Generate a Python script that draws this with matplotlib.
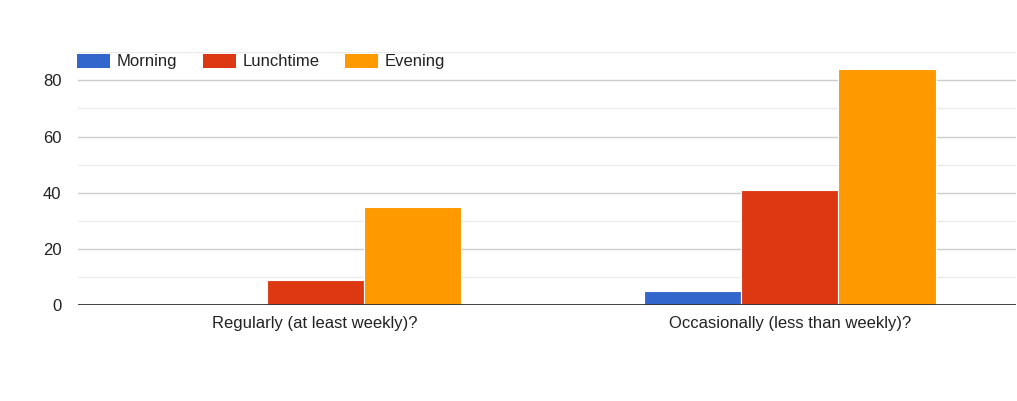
import numpy as np
import matplotlib.pyplot as plt
from matplotlib.patches import Patch

plt.rcParams['font.family'] = ['Liberation Sans', 'DejaVu Sans']

categories = ['Regularly (at least weekly)?', 'Occasionally (less than weekly)?']
series = ['Morning', 'Lunchtime', 'Evening']
morning = [0, 5]
lunchtime = [9, 41]
evening = [35, 84]
colors = ['#3366cc', '#dc3912', '#ff9900']

fig = plt.figure(figsize=(10.17, 4.01), dpi=100)
ax = fig.add_axes([78 / 1017, 96 / 401, 938 / 1017, 252.7 / 401])

x = np.arange(len(categories))
w = 0.205
for i, (vals, c) in enumerate(zip([morning, lunchtime, evening], colors)):
    ax.bar(x + (i - 1) * w, vals, width=w, color=c, edgecolor='white',
           linewidth=0.8, zorder=3)

ax.set_xlim(-0.5, 1.477)
ax.set_ylim(0, 90)

# light lines every 10, darker every 20
for v in range(10, 91, 10):
    col = '#cccccc' if v % 20 == 0 and v < 90 else '#ebebeb'
    ax.axhline(v, color=col, linewidth=1, zorder=1)
ax.axhline(0, color='#333333', linewidth=1.3, zorder=4)

ax.set_yticks([0, 20, 40, 60, 80])
ax.set_xticks(x)
ax.set_xticklabels(categories)
ax.tick_params(axis='both', length=0, labelsize=12, colors='#222222')
ax.tick_params(axis='y', pad=12)
ax.tick_params(axis='x', pad=8)
for s in ax.spines.values():
    s.set_visible(False)

handles = [Patch(facecolor=c, edgecolor='none') for c in colors]
fig.legend(handles, series, loc='center left', ncol=3, frameon=False,
           bbox_to_anchor=(77 / 1017, 1 - 61.5 / 401), borderpad=0,
           borderaxespad=0, handlelength=2.0, handleheight=0.95,
           handletextpad=0.4, columnspacing=1.5, fontsize=12,
           labelcolor='#222222')

fig.savefig('out.png', dpi=100)
